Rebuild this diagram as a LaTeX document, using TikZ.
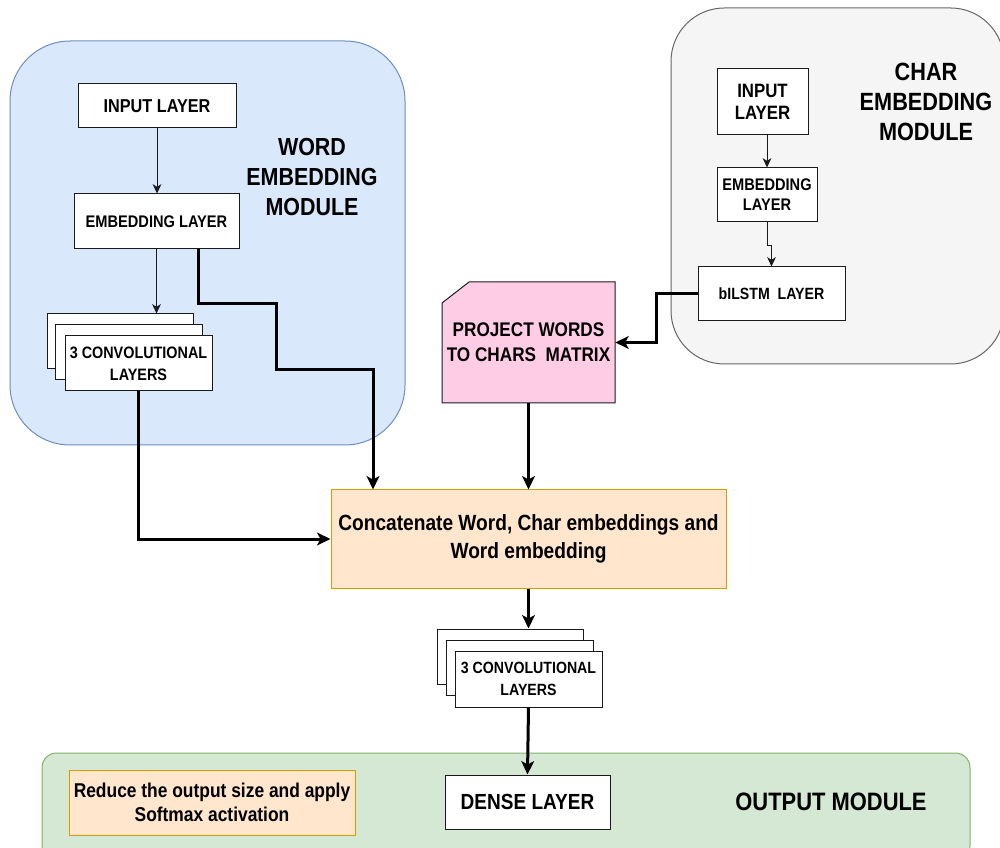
\documentclass[tikz,border=0pt]{standalone}
\usepackage{fontspec}
\setmainfont{Liberation Sans}[FakeStretch=0.87]
\usetikzlibrary{arrows.meta,calc}

\definecolor{wordfill}{HTML}{DAE8FC}
\definecolor{wordline}{HTML}{6C8EBF}
\definecolor{charfill}{HTML}{F5F5F5}
\definecolor{charline}{HTML}{666666}
\definecolor{orfill}{HTML}{FFE6CC}
\definecolor{orline}{HTML}{D79B00}
\definecolor{pinkfill}{HTML}{FFCCE6}
\definecolor{outfill}{HTML}{D5E8D4}
\definecolor{outline}{HTML}{82B366}
\definecolor{edge}{HTML}{1A1A1A}

\tikzset{
  % span=x1,y1,x2,y2 : rectangle between two corners (pixel units, y downwards)
  span/.style args={#1,#2,#3,#4}{
    minimum width={(#3-#1)*0.75pt}, minimum height={(#4-#2)*0.75pt},
    at={({(#1+#3)/2},{(#2+#4)/2})}},
  fs/.style 2 args={font=\bfseries\fontsize{#1}{#2}\selectfont},
  module/.style={inner sep=0pt, line width=0.75pt},
  layerbox/.style={draw=edge, fill=white, line width=0.75pt, inner sep=0pt, align=center},
  notebox/.style={draw=orline, fill=orfill, line width=0.75pt, inner sep=0pt, align=center},
  title/.style={align=center, fs={18.5pt}{22.5pt}},
  thin/.style={draw=edge, line width=0.75pt, -{Stealth[length=7pt,width=6.5pt,inset=2pt]}},
  thick/.style={draw=black, line width=2.25pt, -{Stealth[length=10pt,width=9.5pt,inset=2.5pt]}},
}

\begin{document}
\begin{tikzpicture}[x=0.75pt, y=-0.75pt]
\useasboundingbox (0,0) rectangle (1000,848);
\clip (0,0) rectangle (1000,848);

% ---------- module backgrounds ----------
\node[module, draw=wordline, fill=wordfill, rounded corners=45pt, span={10,41,405,445}] (wordmod) {};
\node[module, draw=charline, fill=charfill, rounded corners=40pt, span={671,8,1004,364}] (charmod) {};
\node[module, draw=outline, fill=outfill, rounded corners=11pt, span={42,753,970,860}] (outmod) {};

% ---------- module titles ----------
\node[title] (wordtitle) at (312,177) {WORD\\EMBEDDING\\MODULE};
\node[title, fs={18.7pt}{22.5pt}] (chartitle) at (926,102) {CHAR\\EMBEDDING\\MODULE};
\node[title, fs={18.9pt}{22pt}] (outtitle) at (831,802) {OUTPUT MODULE};

% ---------- word embedding module ----------
\node[layerbox, fs={14pt}{17pt}, span={78,84,236,128}] (win) {INPUT LAYER};
\node[layerbox, fs={12.6pt}{15pt}, span={74,194,239,249}] (wemb) {EMBEDDING LAYER};
\node[layerbox, span={47,314,193,369}] (wconvc) {};
\node[layerbox, span={55,325,202,380}] (wconvb) {};
\node[layerbox, fs={12.4pt}{16.5pt}, span={65,336,212,391}] (wconv) {3 CONVOLUTIONAL\\LAYERS};

% ---------- char embedding module ----------
\node[layerbox, fs={14.5pt}{17pt}, span={717,69,808,135}] (cin) {INPUT\\LAYER};
\node[layerbox, fs={12.6pt}{15pt}, span={717,168,817,222}] (cemb) {EMBEDDING\\LAYER};
\node[layerbox, fs={12.2pt}{15pt}, span={698,267,845,321}] (bilstm) {bILSTM~~LAYER};

% ---------- projection card ----------
\filldraw[fill=pinkfill, draw=edge, line width=0.75pt]
  (469,282) -- (615,282) -- (615,403) -- (442,403) -- (442,303) -- cycle;
\node[inner sep=0pt, align=center, fs={14.8pt}{19pt}, span={442,282,615,403}] (proj)
  {PROJECT WORDS\\TO CHARS~~MATRIX};

% ---------- concatenation ----------
\node[notebox, fs={16.5pt}{20.5pt}, span={331,490,726,588}] (concat)
  {Concatenate Word, Char embeddings and\\Word embedding};

% ---------- second convolution stack ----------
\node[layerbox, span={437,629,583,684}] (oconvc) {};
\node[layerbox, span={446,640,593,695}] (oconvb) {};
\node[layerbox, fs={12.2pt}{16pt}, span={455,651,602,707}] (oconv) {3 CONVOLUTIONAL\\LAYERS};

% ---------- output module ----------
\node[notebox, fs={15pt}{18pt}, span={69,770,355,835}] (reduce)
  {Reduce the output size and apply\\Softmax activation};
\node[layerbox, fs={16.4pt}{19pt}, span={445,775,610,829}] (dense) {DENSE LAYER};

% ---------- connectors ----------
\draw[thin] (win.south) -- (win.south |- wemb.north);
\draw[thin] (wemb.south) -- (wemb.south |- wconvc.north);
\draw[thin] (cemb.north |- cin.south) -- (cemb.north);
\draw[thin] (cemb.south) -- ++(0,23) -| (bilstm.north);

\draw[thick] ($(wemb.south west)!0.75!(wemb.south east)$) -- ++(0,54) -- ++(78,0)
  -- ++(0,66) -- ++(97,0) coordinate (bend) -- (bend |- concat.north);
\draw[thick] (wconv.south) |- (concat.west);
\draw[thick] (bilstm.west) -- ++(-41,0) |- (proj.east);
\draw[thick] (proj.south) -- (proj.south |- concat.north);
\draw[thick] (concat.south) -- (concat.south |- oconvc.north);
\draw[thick] (oconv.south) -- (dense.north);
\end{tikzpicture}
\end{document}
